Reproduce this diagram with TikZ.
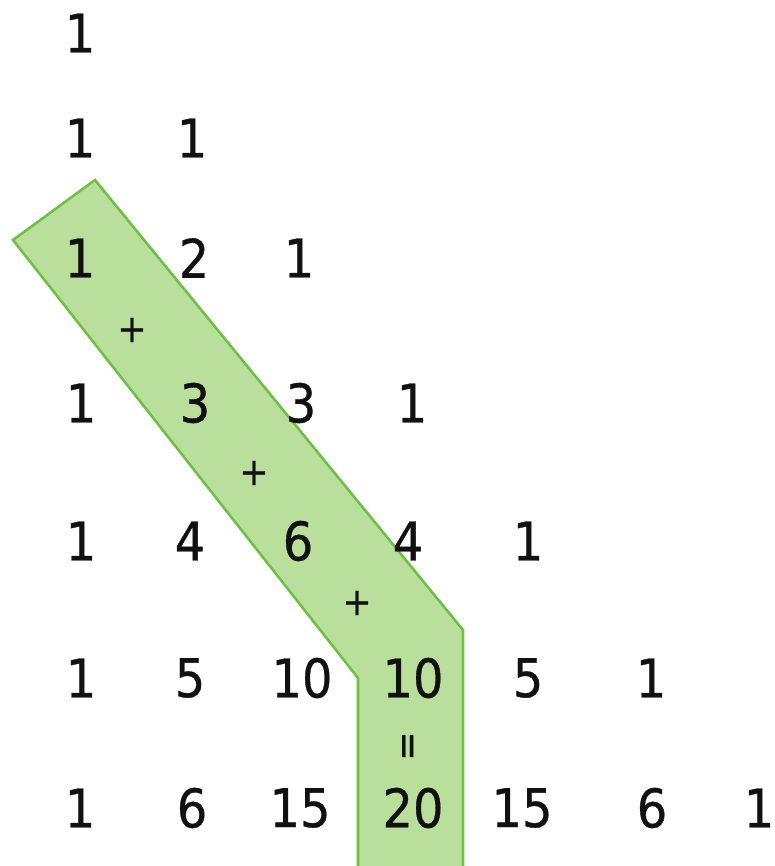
\documentclass[tikz,border=0pt]{standalone}
\usepackage{fontspec}
\setmainfont{DejaVu Sans Condensed}
\newfontfamily\pgdigits[FakeBold=0.6]{DejaVu Sans Condensed}
\usetikzlibrary{positioning}
\definecolor{pgFill}{HTML}{BADF9D}
\definecolor{pgEdge}{HTML}{6CC043}
\definecolor{pgInk}{HTML}{111111}
\tikzset{
  pgnum/.style={
    inner sep=0pt,
    text=pgInk,
    font=\pgdigits\fontsize{40}{46}\selectfont
  },
  pgop/.style={
    inner sep=0pt,
    text=pgInk,
    font=\pgdigits\fontsize{29}{35}\selectfont
  },
  pgband/.style={draw=pgEdge, fill=pgFill, line width=1.9pt, line join=miter}
}

\begin{document}
\begin{tikzpicture}[x=0.75pt, y=-0.75pt]
  \useasboundingbox (0,0) rectangle (774,866);

  % the highlighted diagonal
  \draw[pgband] (95,180) -- (13,240) -- (358,678) -- (358,880) -- (463,880) -- (463,630) -- cycle;

  % rows of the triangle
  \node[pgnum] (r0c0) at (80,33) {1};

  \node[pgnum] (r1c0) at (80,138) {1};
  \node[pgnum] (r1c1) at (192,138) {1};

  \node[pgnum] (r2c0) at (80,258) {1};
  \node[pgnum] (r2c1) at (194,258) {2};
  \node[pgnum] (r2c2) at (299,258) {1};

  \node[pgnum] (r3c0) at (81,403) {1};
  \node[pgnum] (r3c1) at (195,403) {3};
  \node[pgnum] (r3c2) at (301,403) {3};
  \node[pgnum] (r3c3) at (412,403) {1};

  \node[pgnum] (r4c0) at (81,541) {1};
  \node[pgnum] (r4c1) at (190,541) {4};
  \node[pgnum] (r4c2) at (298,541) {6};
  \node[pgnum] (r4c3) at (408,541) {4};
  \node[pgnum] (r4c4) at (528,541) {1};

  \node[pgnum] (r5c0) at (81,678) {1};
  \node[pgnum] (r5c1) at (190,678) {5};
  \node[pgnum] (r5c2) at (302,678) {10};
  \node[pgnum] (r5c3) at (413,678) {10};
  \node[pgnum] (r5c4) at (528,678) {5};
  \node[pgnum] (r5c5) at (651,678) {1};

  \node[pgnum] (r6c0) at (80,808) {1};
  \node[pgnum] (r6c1) at (192,808) {6};
  \node[pgnum] (r6c2) at (300,808) {15};
  \node[pgnum] (r6c3) at (413,808) {20};
  \node[pgnum] (r6c4) at (522,808) {15};
  \node[pgnum] (r6c5) at (652,808) {6};
  \node[pgnum] (r6c6) at (759,808) {1};

  % the sum along the band
  \node[pgop] (plusA) at (132,330) {+};
  \node[pgop] (plusB) at (254,473) {+};
  \node[pgop] (plusC) at (357,603) {+};
  \node[pgop, rotate=90] (equal) at (411,746) {=};
\end{tikzpicture}
\end{document}
